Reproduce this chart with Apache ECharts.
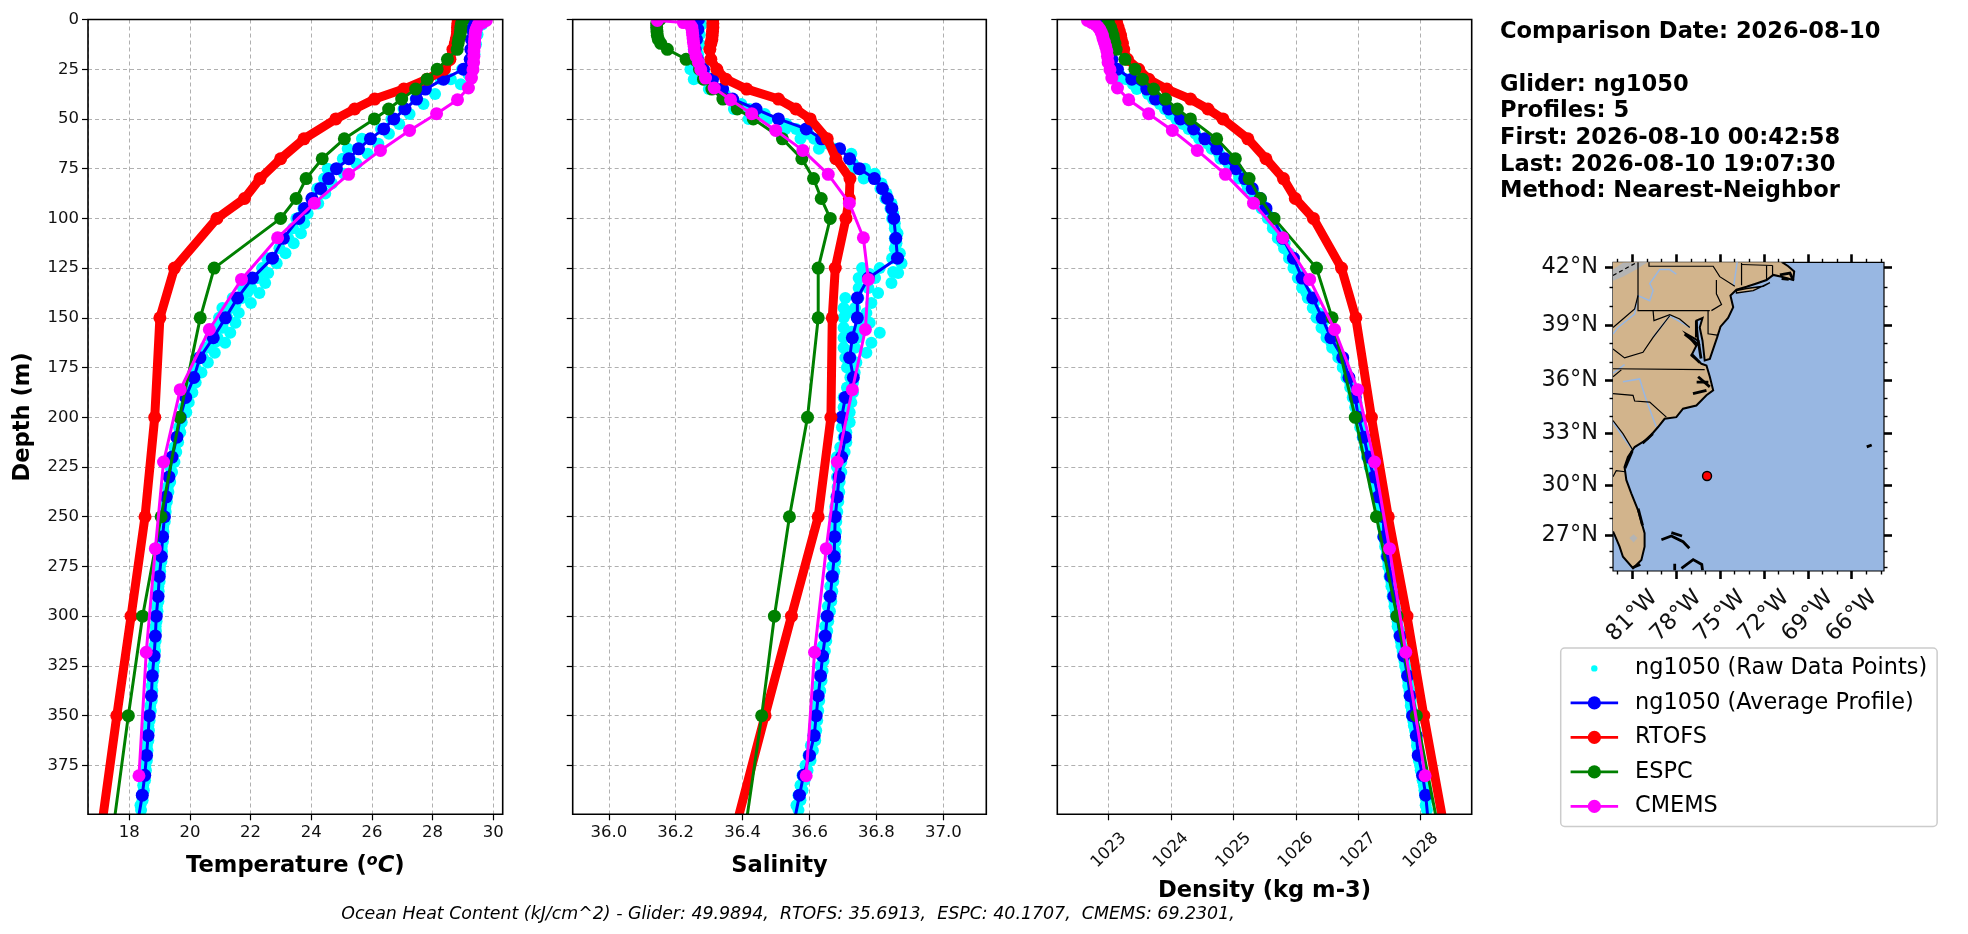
<!DOCTYPE html>
<html><head><meta charset="utf-8">
<style>html,body{margin:0;padding:0;background:#fff}#c{width:1968px;height:934px}</style>
<script src="https://cdn.jsdelivr.net/npm/echarts@6/dist/echarts.min.js"></script>
</head><body><div id="c"></div>
<script>
const FONT='"DejaVu Sans"';
const infoLines=['Comparison Date: 2026-08-10','','Glider: ng1050','Profiles: 5','First: 2026-08-10 00:42:58','Last: 2026-08-10 19:07:30','Method: Nearest-Neighbor'];
const footer='Ocean Heat Content (kJ/cm^2) - Glider: 49.9894,  RTOFS: 35.6913,  ESPC: 40.1707,  CMEMS: 69.2301,';
const legendNames=['ng1050 (Raw Data Points)','ng1050 (Average Profile)','RTOFS','ESPC','CMEMS'];

// raw glider scatter, read as a low and a high edge per depth
const depthRaw=[0,5,10,15,20,25,30,35,40,45,50,55,60,65,70,75,80,85,90,95,100,105,110,115,120,125,130,135,140,145,150,155,160,165,170,175,180,185,190,195,200,205,210,215,220,225,230,235,240,245,250,255,260,265,270,275,280,285,290,295,300,305,310,315,320,325,330,335,340,345,350,355,360,365,370,375,380,385,390,395,400];
const tempRawLo=[29.32,29.32,29.32,29.32,29.27,28.97,28.27,27.77,27.44,27.04,26.64,26.3,25.67,25.2,25.04,24.54,24.42,24.2,24.02,23.74,23.51,23.4,23.06,22.95,22.55,22.38,21.98,21.75,21.41,21.07,20.96,20.84,20.67,20.5,20.27,20.17,20.1,19.97,19.87,19.8,19.69,19.64,19.57,19.49,19.41,19.35,19.31,19.27,19.23,19.19,19.16,19.12,19.1,19.07,19.05,19.01,18.98,18.96,18.94,18.91,18.88,18.87,18.85,18.83,18.81,18.79,18.75,18.74,18.72,18.69,18.65,18.63,18.61,18.58,18.56,18.53,18.5,18.46,18.42,18.37,18.31];
const tempRawHi=[29.63,29.48,29.43,29.38,29.33,29.18,28.93,28.08,27.7,27.24,26.9,26.56,26.21,25.86,25.49,25.08,24.68,24.46,24.23,23.88,23.77,23.66,23.42,23.15,22.86,22.58,22.48,22.29,22.01,21.61,21.5,21.33,21.16,20.82,20.59,20.38,20.19,20.08,19.96,19.88,19.73,19.68,19.61,19.55,19.49,19.41,19.35,19.29,19.24,19.2,19.17,19.13,19.11,19.08,19.06,19.02,19.0,18.97,18.96,18.93,18.9,18.88,18.87,18.85,18.83,18.8,18.77,18.76,18.74,18.71,18.67,18.65,18.63,18.6,18.58,18.55,18.52,18.48,18.44,18.39,18.33];
const salRawLo=[36.254,36.254,36.254,36.254,36.259,36.244,36.254,36.299,36.344,36.374,36.418,36.528,36.573,36.628,36.677,36.737,36.762,36.812,36.827,36.842,36.847,36.855,36.855,36.855,36.847,36.757,36.747,36.747,36.707,36.702,36.702,36.702,36.702,36.702,36.707,36.712,36.722,36.712,36.702,36.702,36.697,36.697,36.702,36.692,36.682,36.682,36.682,36.684,36.68,36.677,36.674,36.673,36.672,36.671,36.671,36.668,36.665,36.662,36.659,36.655,36.65,36.647,36.644,36.64,36.636,36.633,36.63,36.626,36.623,36.62,36.617,36.614,36.611,36.604,36.597,36.588,36.579,36.573,36.567,36.561,36.555];
const salRawHi=[36.277,36.272,36.272,36.267,36.277,36.287,36.307,36.347,36.396,36.466,36.531,36.596,36.655,36.725,36.73,36.795,36.815,36.83,36.845,36.85,36.855,36.863,36.86,36.87,36.875,36.865,36.845,36.805,36.785,36.77,36.78,36.81,36.785,36.77,36.74,36.735,36.73,36.73,36.725,36.72,36.72,36.71,36.71,36.705,36.695,36.695,36.69,36.689,36.686,36.683,36.68,36.679,36.678,36.677,36.677,36.674,36.671,36.668,36.665,36.661,36.656,36.653,36.65,36.646,36.642,36.639,36.636,36.632,36.629,36.626,36.623,36.62,36.617,36.61,36.603,36.594,36.585,36.579,36.573,36.567,36.561];
const densRawLo=[1022.88,1022.91,1022.96,1022.99,1023.03,1023.08,1023.18,1023.45,1023.71,1023.9,1024.08,1024.28,1024.45,1024.65,1024.79,1024.97,1025.09,1025.23,1025.36,1025.45,1025.55,1025.63,1025.71,1025.81,1025.89,1025.96,1026.03,1026.1,1026.19,1026.27,1026.33,1026.41,1026.49,1026.58,1026.68,1026.75,1026.81,1026.87,1026.91,1026.95,1026.98,1027.03,1027.07,1027.11,1027.14,1027.18,1027.23,1027.26,1027.3,1027.34,1027.38,1027.39,1027.4,1027.43,1027.45,1027.48,1027.5,1027.53,1027.55,1027.58,1027.61,1027.63,1027.66,1027.69,1027.72,1027.75,1027.78,1027.8,1027.82,1027.84,1027.86,1027.89,1027.92,1027.94,1027.96,1027.99,1028.02,1028.05,1028.07,1028.08,1028.1];
const densRawHi=[1022.92,1022.94,1022.97,1023.0,1023.04,1023.17,1023.39,1023.63,1023.82,1023.99,1024.19,1024.39,1024.59,1024.77,1024.92,1025.09,1025.21,1025.33,1025.45,1025.54,1025.63,1025.71,1025.82,1025.89,1025.97,1026.05,1026.12,1026.17,1026.29,1026.36,1026.43,1026.49,1026.57,1026.67,1026.76,1026.81,1026.87,1026.92,1026.97,1027.0,1027.03,1027.07,1027.11,1027.15,1027.18,1027.22,1027.27,1027.3,1027.34,1027.38,1027.42,1027.43,1027.43,1027.46,1027.48,1027.51,1027.53,1027.56,1027.58,1027.6,1027.63,1027.66,1027.68,1027.71,1027.74,1027.77,1027.8,1027.82,1027.84,1027.86,1027.88,1027.91,1027.94,1027.96,1027.97,1028.0,1028.03,1028.06,1028.09,1028.1,1028.12];
// raw points inside the wider parts of the cloud: value, depth
const tempRawMid=[[28.6,30],[25.95,60],[25.53,65],[25.27,70],[24.81,75],[23.24,110],[22.7,120],[22.23,130],[22.02,135],[21.71,140],[21.34,145],[21.23,150],[21.08,155],[20.91,160],[20.66,165],[20.43,170],[22.4,127],[21.9,137],[21.5,143],[21.1,152],[20.85,162]];
const salRawMid=[[36.28,30],[36.42,45],[36.475,50],[36.56,55],[36.614,60],[36.676,65],[36.766,75],[36.81,125],[36.78,128],[36.796,130],[36.776,135],[36.746,140],[36.736,145],[36.741,150],[36.756,155],[36.726,157],[36.743,160],[36.736,165],[36.723,170],[36.85,127],[36.72,147],[36.77,153]];
const densRawMid=[[1023.28,30],[1025.78,112],[1026.1,132]];

// glider average profile
const depthAvg=[0,5,10,15,20,25,30,35,40,45,50,55,60,65,70,75,80,85,90,95,100,110,120,130,140,150,160,170,180,190,200,210,220,230,240,250,260,270,280,290,300,310,320,330,340,350,360,370,380,390,400];
const tempAvg=[29.3,29.3,29.28,29.26,29.24,29.02,28.36,27.76,27.47,27.09,26.72,26.39,25.95,25.56,25.24,24.83,24.57,24.31,24.02,23.78,23.59,23.08,22.72,22.06,21.57,21.17,20.77,20.33,20.13,19.86,19.68,19.57,19.41,19.31,19.22,19.16,19.1,19.06,18.99,18.95,18.89,18.86,18.82,18.76,18.73,18.66,18.62,18.57,18.51,18.43,18.32];
const salAvg=[36.268,36.266,36.262,36.258,36.265,36.283,36.31,36.34,36.37,36.44,36.507,36.59,36.636,36.69,36.72,36.749,36.794,36.818,36.833,36.846,36.852,36.858,36.863,36.776,36.743,36.743,36.728,36.72,36.731,36.707,36.696,36.707,36.696,36.688,36.683,36.677,36.675,36.674,36.668,36.662,36.653,36.647,36.639,36.633,36.626,36.62,36.614,36.6,36.582,36.57,36.558];
const densAvg=[1022.86,1022.91,1022.97,1023.0,1023.05,1023.14,1023.37,1023.61,1023.75,1023.96,1024.15,1024.36,1024.54,1024.73,1024.86,1025.04,1025.18,1025.3,1025.43,1025.52,1025.64,1025.79,1025.96,1026.1,1026.27,1026.42,1026.56,1026.75,1026.85,1026.95,1027.0,1027.09,1027.16,1027.25,1027.32,1027.4,1027.41,1027.47,1027.52,1027.57,1027.62,1027.67,1027.73,1027.79,1027.83,1027.87,1027.93,1027.96,1028.03,1028.08,1028.11];

// RTOFS and ESPC share a depth grid
const depthModel=[0,2,4,6,8,10,12,15,20,25,30,35,40,45,50,60,70,80,90,100,125,150,200,250,300,350,400];
const tempRtofs=[28.84,28.83,28.82,28.82,28.81,28.78,28.75,28.67,28.57,28.39,27.82,27.05,26.09,25.43,24.81,23.76,22.99,22.31,21.8,20.89,19.49,19.01,18.84,18.52,18.06,17.59,17.14];
const salRtofs=[36.311,36.311,36.311,36.31,36.309,36.308,36.305,36.302,36.305,36.323,36.35,36.412,36.507,36.559,36.602,36.653,36.679,36.721,36.719,36.709,36.677,36.668,36.664,36.626,36.546,36.467,36.389];
const densRtofs=[1023.12,1023.13,1023.15,1023.17,1023.19,1023.2,1023.22,1023.24,1023.3,1023.48,1023.64,1023.93,1024.31,1024.59,1024.83,1025.23,1025.52,1025.8,1025.99,1026.28,1026.73,1026.96,1027.21,1027.48,1027.78,1028.05,1028.34];
const tempEspc=[29.01,28.95,28.93,28.92,28.9,28.86,28.84,28.81,28.49,28.15,27.82,27.44,26.98,26.55,26.08,25.09,24.36,23.83,23.5,22.99,20.8,20.34,19.66,19.05,18.44,17.97,17.53];
const salEspc=[36.153,36.143,36.143,36.144,36.145,36.148,36.155,36.175,36.231,36.271,36.283,36.308,36.341,36.384,36.432,36.519,36.577,36.612,36.635,36.662,36.626,36.626,36.594,36.54,36.495,36.457,36.414];
const densEspc=[1022.99,1023.0,1023.03,1023.05,1023.07,1023.08,1023.1,1023.12,1023.26,1023.42,1023.54,1023.72,1023.91,1024.1,1024.31,1024.73,1025.03,1025.25,1025.43,1025.65,1026.33,1026.58,1026.95,1027.29,1027.62,1027.93,1028.24];

// CMEMS
const depthCmems=[0.49,1.54,2.65,3.82,5.08,6.44,7.93,9.57,11.41,13.47,15.81,18.5,21.6,25.21,29.44,34.43,40.34,47.37,55.76,65.81,77.85,92.33,109.73,130.67,155.85,186.13,222.48,266.04,318.13,380.21];
const tempCmems=[29.77,29.64,29.5,29.47,29.43,29.41,29.4,29.39,29.38,29.38,29.36,29.36,29.35,29.33,29.28,29.18,28.82,28.13,27.24,26.28,25.23,24.1,22.89,21.7,20.64,19.68,19.13,18.86,18.56,18.32];
const salCmems=[36.145,36.223,36.243,36.248,36.249,36.25,36.251,36.252,36.253,36.255,36.256,36.261,36.268,36.275,36.289,36.315,36.364,36.427,36.499,36.58,36.656,36.719,36.761,36.776,36.767,36.728,36.683,36.65,36.615,36.59];
const densCmems=[1022.66,1022.73,1022.79,1022.83,1022.86,1022.88,1022.9,1022.91,1022.93,1022.95,1022.97,1022.98,1022.99,1023.02,1023.05,1023.14,1023.32,1023.64,1024.02,1024.42,1024.87,1025.32,1025.79,1026.22,1026.62,1026.99,1027.26,1027.5,1027.76,1028.07];

// tick values
const tempTicks=[18,20,22,24,26,28,30];
const salTicks=[36.0,36.2,36.4,36.6,36.8,37.0];
const densTicks=[1023,1024,1025,1026,1027,1028];
const depthTicks=[0,25,50,75,100,125,150,175,200,225,250,275,300,325,350,375];

// map geometry, lon/lat
const lonTicks=[-81,-78,-75,-72,-69,-66];
const latTicks=[27,30,33,36,39,42];
const lonMinor=[-82,-80,-79,-77,-76,-74,-73,-71,-70,-68,-67,-65,-64];
const latMinor=[25,26,28,29,31,32,34,35,37,38,40,41];
const gliderPos=[[-75.89,30.54]];
const landOutline=[[-82.32,42.27],[-70.79,42.27],[-70.34,42.05],[-69.93,41.79],[-70.0,41.35],[-70.79,41.52],[-71.36,41.61],[-71.82,41.35],[-72.51,41.17],[-73.19,41.0],[-73.88,40.85],[-74.29,40.55],[-74.1,39.94],[-74.45,39.37],[-74.97,38.91],[-75.2,38.34],[-75.7,37.18],[-76.05,37.09],[-76.2,38.16],[-76.39,38.87],[-76.2,39.37],[-76.62,39.23],[-76.5,38.16],[-77.3,38.52],[-76.62,37.89],[-76.96,37.36],[-76.27,36.91],[-75.93,36.82],[-75.7,36.2],[-75.47,35.45],[-75.93,35.17],[-76.62,34.6],[-77.53,34.42],[-77.99,33.94],[-78.79,33.85],[-79.24,33.38],[-79.93,32.71],[-80.84,32.23],[-81.3,31.65],[-81.53,31.08],[-81.41,30.31],[-81.07,29.52],[-80.61,28.52],[-80.16,27.12],[-80.16,26.3],[-80.38,25.48],[-80.95,24.97],[-81.64,25.68],[-81.87,26.3],[-82.21,27.02],[-82.32,27.22]];
const coastOpen=landOutline.slice(1);
const lakes=[[[-82.32,41.88],[-81.64,42.23],[-79.93,42.27],[-80.73,41.88],[-81.64,41.52],[-82.32,41.31]],[[-81.2,26.82],[-80.91,27.05],[-80.65,26.82],[-80.91,26.55]]];
const longIsland=[[[-73.88,40.68],[-72.73,40.8],[-71.59,41.21],[-72.05,41.03],[-73.19,40.91],[-73.88,40.8]]];
const blackBits=[[[-70.91,41.61],[-70.22,41.7],[-70.0,41.35]],[[-70.79,41.42],[-70.3,41.38]],[[-79.01,26.72],[-78.33,26.95],[-77.53,26.6],[-77.1,26.2]],[[-78.33,27.15],[-77.6,26.95]],[[-78.1,24.85],[-78.1,25.25]],[[-77.64,24.96],[-76.84,25.5],[-76.25,25.2],[-76.2,24.85]],[[-64.97,32.24],[-64.63,32.35]],[[-81.0,25.0],[-80.45,25.2]]];
const estuaries=[[[-76.62,39.23],[-76.62,38.34]],[[-77.42,38.52],[-76.39,37.89]],[[-76.96,37.45],[-76.39,36.98]],[[-76.5,36.2],[-75.7,35.64]],[[-76.85,35.26],[-75.93,35.45]],[[-81.0,32.0],[-81.5,31.0]],[[-80.6,28.6],[-80.3,27.6]],[[-80.3,32.45],[-79.6,33.0]],[[-76.5,38.2],[-76.3,37.2]],[[-76.6,35.9],[-75.8,35.9]]];
const stateLines=[[[-80.61,42.27],[-80.61,39.76],[-75.7,39.76]],[[-79.86,42.27],[-79.86,42.05],[-75.47,42.05],[-75.02,41.52],[-73.99,41.03]],[[-75.25,41.35],[-75.25,40.64],[-74.9,40.08],[-75.59,39.76]],[[-75.82,39.76],[-75.82,38.53],[-75.2,38.46]],[[-79.58,39.76],[-79.52,39.23],[-78.44,39.55],[-77.76,39.32],[-77.07,38.87]],[[-82.32,38.87],[-81.64,39.32],[-80.84,39.85],[-80.61,40.55]],[[-82.32,37.71],[-81.53,37.23],[-80.27,37.54],[-79.58,38.34],[-78.44,39.49]],[[-82.32,36.2],[-81.75,36.58]],[[-82.32,36.64],[-76.05,36.59]],[[-82.32,35.26],[-80.95,35.17],[-80.84,34.85],[-79.81,34.79],[-78.67,33.94]],[[-82.32,33.75],[-81.64,33.0],[-80.95,32.04]],[[-82.32,30.5],[-82.1,30.85],[-81.48,30.79]],[[-73.53,42.21],[-73.53,41.08]],[[-73.53,42.14],[-71.41,42.09]],[[-71.82,42.09],[-71.82,41.35]],[[-71.41,42.09],[-71.41,41.61]]];
const rivers=[[[-82.32,38.52],[-81.98,38.87],[-80.84,39.58],[-80.61,40.55],[-79.81,40.28],[-79.58,40.81],[-79.81,41.17],[-79.13,41.88],[-78.44,41.88],[-77.99,41.65]],[[-79.58,38.34],[-78.44,39.49],[-77.07,38.87]],[[-81.64,35.92],[-80.5,36.08],[-80.04,34.89],[-79.36,33.38]],[[-82.32,33.66],[-81.64,32.81],[-80.95,32.04]],[[-73.83,42.27],[-74.06,41.08]],[[-82.32,36.4],[-81.53,36.87]]];
const canadaBorder=[[[-82.32,41.58],[-80.73,42.23]]];

const merc=lat=>Math.log(Math.tan(Math.PI/4+lat*Math.PI/360))*180/Math.PI;
const unmerc=m=>(2*Math.atan(Math.exp(m*Math.PI/180))-Math.PI/2)*180/Math.PI;

const panels=[
 {left:88,width:414.7,min:16.64,max:30.31,step:2,ticks:tempTicks,raw:[tempRawLo,tempRawHi],mid:tempRawMid,avg:tempAvg,rt:tempRtofs,es:tempEspc,cm:tempCmems},
 {left:572.7,width:413.6,min:35.892,max:37.1285,step:0.2,ticks:salTicks,raw:[salRawLo,salRawHi],mid:salRawMid,avg:salAvg,rt:salRtofs,es:salEspc,cm:salCmems},
 {left:1057.3,width:414.4,min:1022.176,max:1028.817,step:1,ticks:densTicks,raw:[densRawLo,densRawHi],mid:densRawMid,avg:densAvg,rt:densRtofs,es:densEspc,cm:densCmems}
];
const TOP=19.5,H=794.8,BF=22.6,TF=16.5;
const gridLine={show:true,lineStyle:{color:'#b0b0b0',type:[4,3],width:1}};
const zip=(xs,ys)=>xs.map((x,i)=>[x,ys[i]]);
const grids=[],xAxes=[],yAxes=[],series=[],graphics=[];

const names=[
 {text:'{b|Temperature (}{s|o}{i|C}{b|)}',gap:39},
 {text:'Salinity',gap:40.5},
 {text:'Density (kg m-3)',gap:65}];
panels.forEach((p,i)=>{
 grids.push({left:p.left,top:TOP,width:p.width,height:H,show:false});
 xAxes.push({type:'value',gridIndex:i,min:p.min,max:p.max,minInterval:p.step,maxInterval:p.step,position:'bottom',
  name:names[i].text,nameLocation:'middle',nameGap:names[i].gap,
  nameTextStyle:{fontFamily:FONT,fontWeight:'bold',fontSize:BF,color:'#000',rich:{
    b:{fontFamily:FONT,fontWeight:'bold',fontSize:BF,color:'#000'},
    s:{fontFamily:FONT,fontStyle:'italic',fontSize:15.8,color:'#000',padding:[0,0,10,0]},
    i:{fontFamily:FONT,fontStyle:'italic',fontSize:BF,color:'#000'}}},
  axisLine:{show:false},axisTick:{show:false},
  axisLabel:Object.assign({show:true,customValues:p.ticks,fontFamily:FONT,fontSize:TF,color:'#111',hideOverlap:false,
   formatter:v=>i===1?v.toFixed(1):String(Math.round(v))},
   i===2?{rotate:45,align:'center',verticalAlign:'middle',margin:36}:{margin:9.5}),
  splitLine:gridLine});
 yAxes.push({type:'value',gridIndex:i,inverse:true,min:0,max:399.6,interval:25,position:'left',
  name:i===0?'Depth (m)':'',nameLocation:'middle',nameGap:53,nameRotate:90,
  nameTextStyle:{fontFamily:FONT,fontWeight:'bold',fontSize:BF,color:'#000'},
  axisLine:{show:false},axisTick:{show:true,length:6,lineStyle:{color:'#000',width:1.2},customValues:depthTicks},
  axisLabel:{show:i===0,customValues:depthTicks,fontFamily:FONT,fontSize:TF,color:'#111',margin:9},
  splitLine:gridLine});
 series.push({type:'scatter',name:legendNames[0],xAxisIndex:i,yAxisIndex:i,symbol:'circle',symbolSize:12,z:2,silent:true,
  itemStyle:{color:'#00ffff',opacity:1},
  data:zip(p.raw[0],depthRaw).concat(zip(p.raw[1],depthRaw.map(d=>d+2.5)),p.mid)});
 const line=(name,color,xs,ds,w,z)=>series.push({type:'line',name,xAxisIndex:i,yAxisIndex:i,color,symbol:'circle',symbolSize:13,showSymbol:true,showAllSymbol:true,z,silent:true,clip:true,
   lineStyle:{color,width:w},itemStyle:{color,opacity:1},data:zip(xs,ds)});
 line(legendNames[1],'#0000ff',p.avg,depthAvg,3,3);
 line(legendNames[2],'#ff0000',p.rt,depthModel,9,4);
 line(legendNames[3],'#008000',p.es,depthModel,3,5);
 line(legendNames[4],'#ff00ff',p.cm,depthCmems,3,6);
 graphics.push({type:'rect',z:21,silent:true,shape:{x:p.left,y:TOP,width:p.width,height:H},style:{fill:'none',stroke:'#000',lineWidth:1.6}});
 // white strips hiding the marker parts past the frame
 graphics.push({type:'rect',z:20,silent:true,shape:{x:p.left-0.5,y:TOP-9,width:p.width+1,height:9},style:{fill:'#fff'}});
 graphics.push({type:'rect',z:20,silent:true,shape:{x:p.left-0.5,y:TOP+H,width:p.width+1,height:7.5},style:{fill:'#fff'}});
});
// tick-only axes, drawn above the strips
panels.forEach((p,i)=>{
 xAxes.push({type:'value',gridIndex:i,min:p.min,max:p.max,position:'bottom',z:25,
  axisLine:{show:false},splitLine:{show:false},axisLabel:{show:false},
  axisTick:{show:true,length:6,customValues:p.ticks,lineStyle:{color:'#000',width:1.2}}});
});

// map panel
const MI=3;
grids.push({left:1613,top:262.3,width:271,height:308.7,show:true,backgroundColor:'#98b7e2',borderColor:'#000',borderWidth:1.2,z:1});
const LONR=[-82.32,-63.79],MERCR=[25.61,46.70];
function addAxes(pos,vals,len,labels){
 const isX=pos==='bottom'||pos==='top';
 const ax={type:'value',gridIndex:MI,position:pos,min:isX?LONR[0]:MERCR[0],max:isX?LONR[1]:MERCR[1],
  axisLine:{show:false},splitLine:{show:false},
  axisTick:{show:true,length:len,customValues:vals,lineStyle:{color:'#000',width:len>5?2.6:1.4}},
  axisLabel:labels?Object.assign({show:true,customValues:vals,fontFamily:FONT,fontSize:22.4,color:'#111',
    formatter:isX?(v=>Math.round(-v)+'°W'):(v=>Math.round(unmerc(v))+'°N')},
    isX?{rotate:45,align:'center',verticalAlign:'middle',margin:45}:{margin:15}):{show:false}};
 (isX?xAxes:yAxes).push(ax);
}
const mapXIndex=xAxes.length,mapYIndex=yAxes.length;
addAxes('bottom',lonTicks,8,true);addAxes('left',latTicks.map(merc),8,true);
addAxes('top',lonTicks,8,false);addAxes('right',latTicks.map(merc),8,false);
addAxes('bottom',lonMinor,3.5,false);addAxes('left',latMinor.map(merc),3.5,false);
addAxes('top',lonMinor,3.5,false);addAxes('right',latMinor.map(merc),3.5,false);

function mapLayer(shapes,closed,style,z){
 series.push({type:'custom',xAxisIndex:mapXIndex,yAxisIndex:mapYIndex,coordinateSystem:'cartesian2d',clip:true,silent:true,z,
  data:shapes.map((s,k)=>[s[0][0],merc(s[0][1]),k]),
  renderItem:(params,api)=>{
   const pts=shapes[api.value(2)].map(q=>api.coord([q[0],merc(q[1])]));
   return {type:closed?'polygon':'polyline',shape:{points:pts},style:Object.assign({fill:closed?style.fill:'none'},style),silent:true};
  }});
}
mapLayer([landOutline],true,{fill:'#d2b48c',stroke:'none'},2);
mapLayer(lakes,true,{fill:'#b4b4b4',stroke:'none'},3);
mapLayer(rivers,false,{stroke:'#98b7e2',lineWidth:1.5},3);
mapLayer(stateLines,false,{stroke:'#000',lineWidth:1.2},4);
mapLayer(canadaBorder,false,{stroke:'#000',lineWidth:1.2,lineDash:[4,3]},4);
mapLayer([coastOpen],false,{stroke:'#000',lineWidth:2},5);
mapLayer(longIsland,true,{fill:'#d2b48c',stroke:'#000',lineWidth:1.4},5);
mapLayer(estuaries,false,{stroke:'#000',lineWidth:2.8},5);
mapLayer(blackBits,false,{stroke:'#000',lineWidth:2.8},5);
series.push({type:'scatter',xAxisIndex:mapXIndex,yAxisIndex:mapYIndex,symbol:'circle',symbolSize:9,z:8,silent:true,
 itemStyle:{color:'#ff0000',borderColor:'#000',borderWidth:1.4,opacity:1},
 data:gliderPos.map(q=>[q[0],merc(q[1])])});

// info text and footer
infoLines.forEach((t,k)=>{ if(!t) return;
 graphics.push({type:'text',silent:true,z:30,style:{text:t,x:1500,y:31.7+k*26.63,fill:'#000',font:'bold '+BF+'px "DejaVu Sans"',textAlign:'left',textVerticalAlign:'middle'}});
});
graphics.push({type:'text',silent:true,z:30,style:{text:footer,x:788,y:914,fill:'#000',font:'italic 17.4px "DejaVu Sans"',textAlign:'center',textVerticalAlign:'middle'}});

const chart=echarts.init(document.getElementById('c'),null,{width:1968,height:934});
chart.setOption({
 animation:false,backgroundColor:'#fff',
 grid:grids,xAxis:xAxes,yAxis:yAxes,series,
 graphic:{elements:graphics},
 legend:{show:true,orient:'vertical',left:1560.7,top:648,selectedMode:false,
  itemWidth:47.5,itemHeight:16.5,itemGap:12.5,padding:[9.4,10,9,8.6],
  borderColor:'#ccc',borderWidth:1.5,borderRadius:4,backgroundColor:'#fff',z:30,
  lineStyle:{width:2.6},
  textStyle:{fontFamily:FONT,fontSize:22.4,color:'#000',padding:[0,0,0,12]},
  data:[{name:legendNames[0],icon:'path://M0 0L0 0M47.5 16.5L47.5 16.5M20.5 8.25a3.2 3.2 0 1 0 6.4 0a3.2 3.2 0 1 0 -6.4 0Z'},legendNames[1],legendNames[2],legendNames[3],legendNames[4]]}
});
</script></body></html>
